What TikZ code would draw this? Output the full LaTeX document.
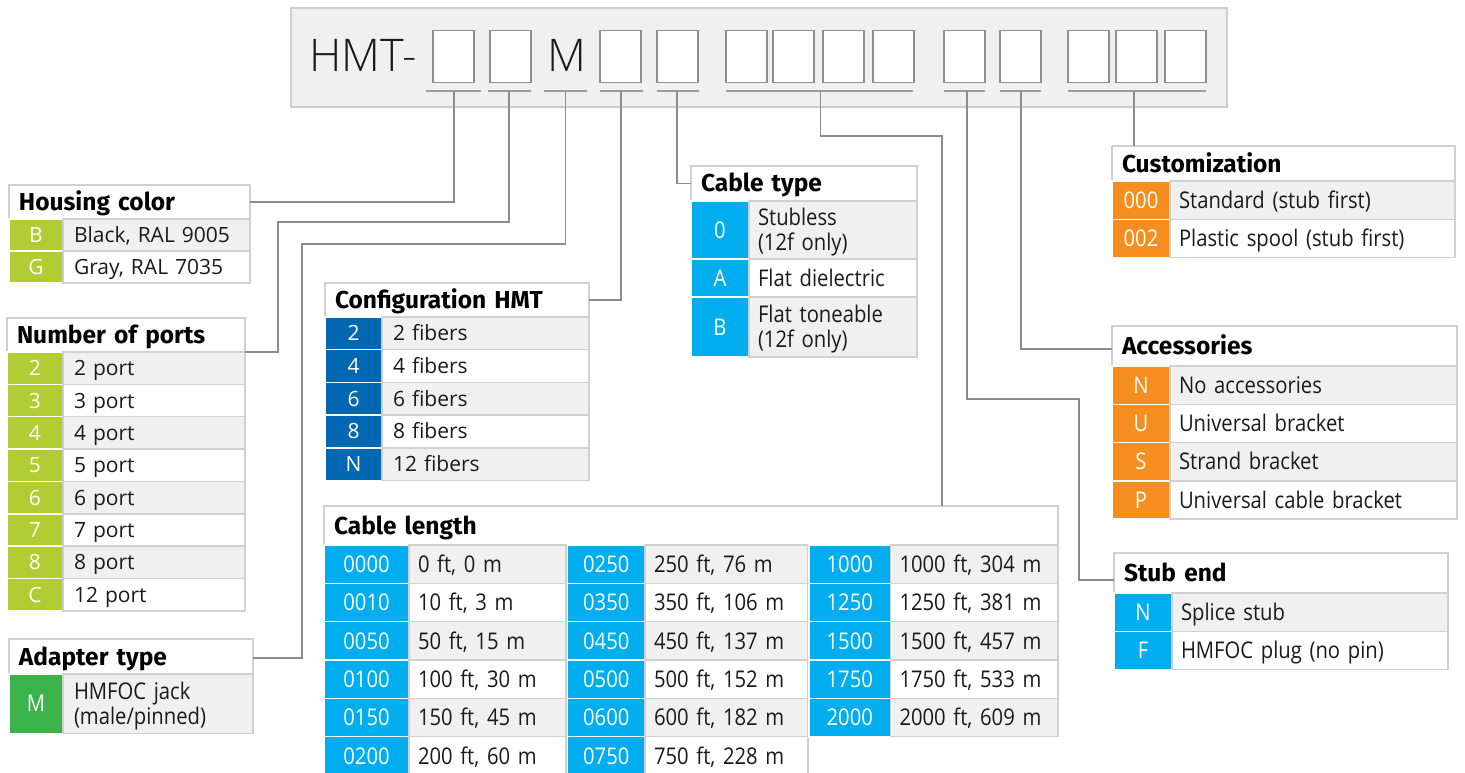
\documentclass[tikz,border=0pt]{standalone}
\usepackage{fontspec}
\setmainfont{Open Sans}
\newfontfamily\headfont{Fira Sans}
\newfontfamily\narrowfont{Open Sans}[FakeStretch=0.88]
\newfontfamily\thinfont{Open Sans Light}
\usetikzlibrary{calc, positioning}

\definecolor{lime}{RGB}{178,204,52}
\definecolor{leaf}{RGB}{58,180,74}
\definecolor{navy}{RGB}{0,104,178}
\definecolor{sky}{RGB}{0,174,239}
\definecolor{amber}{RGB}{245,142,30}
\definecolor{rowgray}{RGB}{240,240,240}
\definecolor{rule}{RGB}{208,208,208}
\definecolor{barline}{RGB}{205,205,205}
\definecolor{slotline}{RGB}{141,141,146}
\definecolor{wireline}{RGB}{140,140,140}
\definecolor{ink}{RGB}{26,26,26}

\begin{document}
\begin{tikzpicture}[
    x=1pt, y=-1pt,
    cell/.style={anchor=north west, inner sep=0pt, outer sep=0pt, line width=1.5pt},
    bar/.style={cell, draw=barline, fill=rowgray, line width=2pt},
    slot/.style={cell, draw=slotline, fill=white, minimum width=41pt, minimum height=52pt},
    headcell/.style={cell, draw=rule, fill=white, inner xsep=10pt, align=left,
        text height=17pt, text depth=0pt, text=black,
        font=\headfont\bfseries\fontsize{24.5}{28}\selectfont},
    codecell/.style={cell, draw=white, fill=#1, text=white, align=center},
    desccell/.style={cell, draw=rule, inner xsep=9pt, align=left, text=ink},
    smalltext/.style={font=\fontsize{21}{25}\selectfont, text height=15pt, text depth=0pt},
    smalldesc/.style={desccell, smalltext, inner xsep=11pt},
    largetext/.style={font=\narrowfont\fontsize{23}{25.5}\selectfont, text height=16.4pt, text depth=0pt},
    twolines/.style={largetext, text depth=25.5pt},
    wire/.style={draw=wireline, line width=1.5pt},
    uline/.style={draw=wireline!85, line width=1.5pt}
]
    \useasboundingbox (0,0) rectangle (1465,773);

    % Part number bar
    \node[bar, minimum width=936pt, minimum height=99pt] (bar) at (291,8) {};
    \node[anchor=base west, inner sep=0pt, text=ink, font=\thinfont\fontsize{45}{50}\selectfont] (hmt) at (309,71.7) {HMT-};
    \node[anchor=base, inner sep=0pt, text=ink, font=\thinfont\fontsize{45}{50}\selectfont] (mid) at (566.5,71.7) {M};
    \foreach \x [count=\i] in {433,490,600,657,726,773,823,873,944,1000,1068,1116,1165}
        \node[slot] (s\i) at (\x,30.5) {};
    \foreach \a/\b in {426/481, 488/531, 544/587, 600/643, 657/699, 726/913, 944/985, 1000/1041, 1068/1206}
        \draw[uline] (\a,91) -- (\b,91);

    % Housing color
    \node[headcell, text width=221pt, minimum height=34pt] (hc) at (9,185) {Housing color};
    \foreach \c/\t [count=\i] in {B/{Black, RAL 9005}, G/{Gray, RAL 7035}} {
        \ifodd\i \def\shade{rowgray}\else \def\shade{white}\fi
        \node[codecell=lime, smalltext, minimum width=54pt, minimum height=32pt] (hc-c\i) at (9,187+32*\i) {\c};
        \node[smalldesc, fill=\shade, text width=165pt, minimum height=32pt] (hc-d\i) at (63,187+32*\i) {\t};
    }

    % Number of ports
    \node[headcell, text width=218pt, minimum height=34pt] (np) at (7,318) {Number of ports};
    \foreach \c/\t [count=\i] in {2/2 port, 3/3 port, 4/4 port, 5/5 port, 6/6 port, 7/7 port, 8/8 port, C/12 port} {
        \ifodd\i \def\shade{rowgray}\else \def\shade{white}\fi
        \node[codecell=lime, smalltext, minimum width=56pt, minimum height=32.35pt] (np-c\i) at (7,319.65+32.35*\i) {\c};
        \node[smalldesc, fill=\shade, text width=160pt, minimum height=32.35pt] (np-d\i) at (63,319.65+32.35*\i) {\t};
    }

    % Adapter type
    \node[headcell, text width=224pt, minimum height=35pt] (at) at (9,639) {Adapter type};
    \node[codecell=leaf, largetext, minimum width=54pt, minimum height=59.5pt] (at-c1) at (9,674) {M};
    \node[desccell, twolines, fill=rowgray, inner xsep=11pt, text width=168pt, minimum height=59.5pt] (at-d1) at (63,674) {HMFOC jack\\(male/pinned)};

    % Configuration HMT
    \node[headcell, text width=244pt, minimum height=34pt] (cf) at (325,283) {Configuration HMT};
    \foreach \c/\t [count=\i] in {2/2 fibers, 4/4 fibers, 6/6 fibers, 8/8 fibers, N/12 fibers} {
        \ifodd\i \def\shade{rowgray}\else \def\shade{white}\fi
        \node[codecell=navy, smalltext, minimum width=57pt, minimum height=32.7pt] (cf-c\i) at (325,284.3+32.7*\i) {\c};
        \node[smalldesc, fill=\shade, text width=185pt, minimum height=32.7pt] (cf-d\i) at (382,284.3+32.7*\i) {\t};
    }

    % Cable type
    \node[headcell, text width=206pt, minimum height=35pt] (ct) at (691,166) {Cable type};
    \node[codecell=sky, largetext, minimum width=58pt, minimum height=58pt] (ct-c1) at (691,201) {0};
    \node[desccell, twolines, fill=rowgray, text width=150pt, minimum height=58pt] (ct-d1) at (749,201) {Stubless\\(12f only)};
    \node[codecell=sky, largetext, minimum width=58pt, minimum height=38pt] (ct-c2) at (691,259) {A};
    \node[desccell, largetext, fill=white, text width=150pt, minimum height=38pt] (ct-d2) at (749,259) {Flat dielectric};
    \node[codecell=sky, largetext, minimum width=58pt, minimum height=60pt] (ct-c3) at (691,297) {B};
    \node[desccell, twolines, fill=rowgray, text width=150pt, minimum height=60pt] (ct-d3) at (749,297) {Flat toneable\\(12f only)};

    % Cable length
    \node[headcell, text width=714pt, minimum height=39pt] (cl) at (324,506) {Cable length};
    \foreach \c/\t [count=\i] in {0000/{0 ft, 0 m}, 0010/{10 ft, 3 m}, 0050/{50 ft, 15 m}, 0100/{100 ft, 30 m}, 0150/{150 ft, 45 m}, 0200/{200 ft, 60 m}} {
        \ifodd\i \def\shade{rowgray}\else \def\shade{white}\fi
        \node[codecell=sky, largetext, minimum width=85pt, minimum height=38.33pt] (cl-a\i) at (324,506.67+38.33*\i) {\c};
        \node[desccell, largetext, fill=\shade, text width=139pt, minimum height=38.33pt] (cl-b\i) at (409,506.67+38.33*\i) {\t};
    }
    \foreach \c/\t [count=\i] in {0250/{250 ft, 76 m}, 0350/{350 ft, 106 m}, 0450/{450 ft, 137 m}, 0500/{500 ft, 152 m}, 0600/{600 ft, 182 m}, 0750/{750 ft, 228 m}} {
        \ifodd\i \def\shade{rowgray}\else \def\shade{white}\fi
        \node[codecell=sky, largetext, minimum width=77.5pt, minimum height=38.33pt] (cl-c\i) at (567.5,506.67+38.33*\i) {\c};
        \node[desccell, largetext, fill=\shade, text width=145pt, minimum height=38.33pt] (cl-d\i) at (645,506.67+38.33*\i) {\t};
    }
    \foreach \c/\t [count=\i] in {1000/{1000 ft, 304 m}, 1250/{1250 ft, 381 m}, 1500/{1500 ft, 457 m}, 1750/{1750 ft, 533 m}, 2000/{2000 ft, 609 m}} {
        \ifodd\i \def\shade{rowgray}\else \def\shade{white}\fi
        \node[codecell=sky, largetext, minimum width=81.5pt, minimum height=38.33pt] (cl-e\i) at (809,506.67+38.33*\i) {\c};
        \node[desccell, largetext, fill=\shade, text width=149.5pt, minimum height=38.33pt] (cl-f\i) at (890.5,506.67+38.33*\i) {\t};
    }

    % Customization
    \node[headcell, text width=323pt, minimum height=35pt] (cu) at (1112,146) {Customization};
    \foreach \c/\t [count=\i] in {000/Standard (stub first), 002/Plastic spool (stub first)} {
        \ifodd\i \def\shade{rowgray}\else \def\shade{white}\fi
        \node[codecell=amber, largetext, minimum width=58pt, minimum height=38.3pt] (cu-c\i) at (1112,142.7+38.3*\i) {\c};
        \node[desccell, largetext, fill=\shade, text width=267pt, minimum height=38.3pt] (cu-d\i) at (1170,142.7+38.3*\i) {\t};
    }

    % Accessories
    \node[headcell, text width=325pt, minimum height=40pt] (ac) at (1112,326) {Accessories};
    \foreach \c/\t [count=\i] in {N/No accessories, U/Universal bracket, S/Strand bracket, P/Universal cable bracket} {
        \ifodd\i \def\shade{rowgray}\else \def\shade{white}\fi
        \node[codecell=amber, largetext, minimum width=58pt, minimum height=38.3pt] (ac-c\i) at (1112,327.7+38.3*\i) {\c};
        \node[desccell, largetext, fill=\shade, text width=269pt, minimum height=38.3pt] (ac-d\i) at (1170,327.7+38.3*\i) {\t};
    }

    % Stub end
    \node[headcell, text width=314pt, minimum height=40pt] (se) at (1114,553) {Stub end};
    \foreach \c/\t [count=\i] in {N/Splice stub, F/HMFOC plug (no pin)} {
        \ifodd\i \def\shade{rowgray}\else \def\shade{white}\fi
        \node[codecell=sky, largetext, minimum width=58pt, minimum height=38.3pt] (se-c\i) at (1114,554.7+38.3*\i) {\c};
        \node[desccell, largetext, fill=\shade, text width=258pt, minimum height=38.3pt] (se-d\i) at (1172,554.7+38.3*\i) {\t};
    }

    % Leader lines from the slots
    \coordinate (u1) at (454,91);
    \coordinate (u2) at (509,91);
    \coordinate (u3) at (565.5,91);
    \coordinate (u4) at (621,91);
    \coordinate (u5) at (677,91);
    \coordinate (u6) at (820.5,91);
    \coordinate (u7) at (967,91);
    \coordinate (u8) at (1021,91);
    \coordinate (u9) at (1134,91);
    \coordinate (k2) at (278,222);
    \coordinate (k3) at (302,244);
    \coordinate (k6) at (942,136);
    \coordinate (k7) at (1079,399);

    \draw[wire] (u1) |- (hc.east);
    \draw[wire] (u2) |- (k2) |- (np.south east);
    \draw[wire] (u3) |- (k3) |- ($(at.east)+(0,1.5)$);
    \draw[wire] (u4) |- (cf.east);
    \draw[wire] (u5) |- (ct.west);
    \draw[wire] (u6) |- (k6) -- (k6 |- cl.north);
    \draw[wire] (u7) |- (k7) |- ($(se.west)+(0,7)$);
    \draw[wire] (u8) |- ($(ac.west)+(0,3)$);
    \draw[wire] (u9) -- (u9 |- cu.north);

\end{tikzpicture}
\end{document}
